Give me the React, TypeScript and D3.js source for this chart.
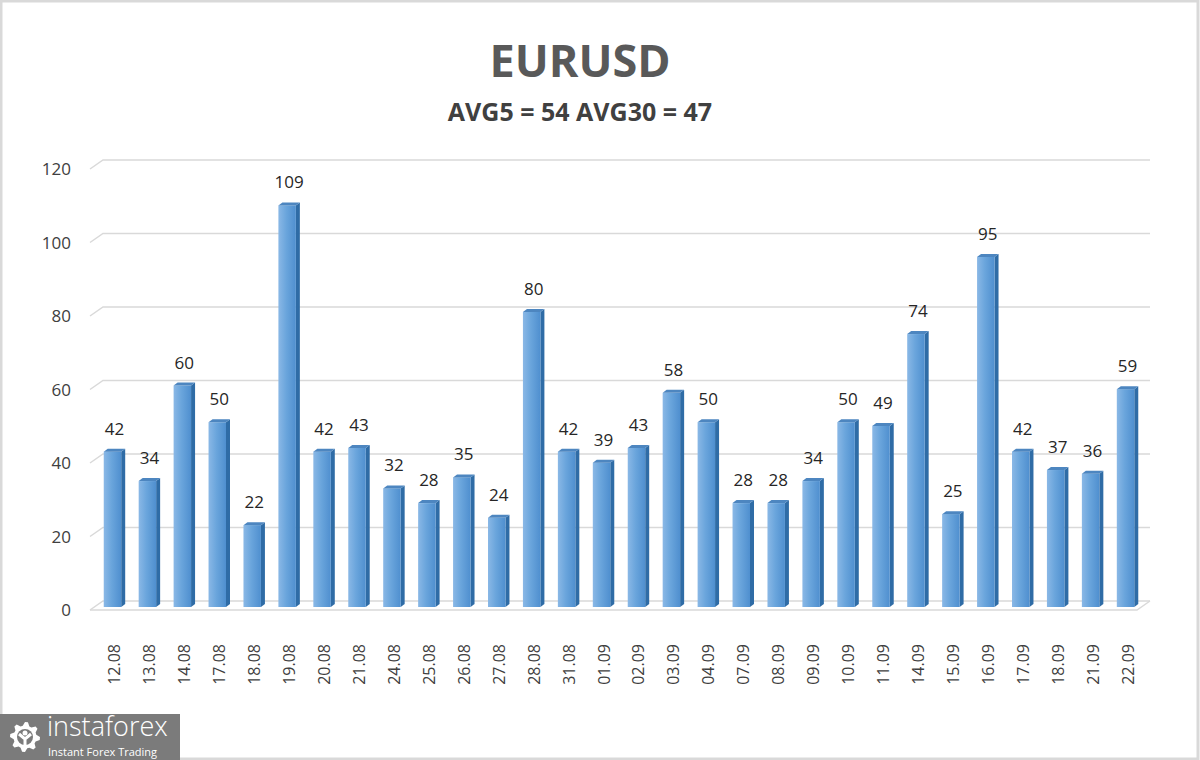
import { useEffect, useRef } from 'react';
import * as d3 from 'd3';

const dates = ['12.08', '13.08', '14.08', '17.08', '18.08', '19.08', '20.08', '21.08', '24.08', '25.08',
  '26.08', '27.08', '28.08', '31.08', '01.09', '02.09', '03.09', '04.09', '07.09', '08.09',
  '09.09', '10.09', '11.09', '14.09', '15.09', '16.09', '17.09', '18.09', '21.09', '22.09'];
const ranges = [42, 34, 60, 50, 22, 109, 42, 43, 32, 28, 35, 24, 80, 42, 39, 43, 58, 50, 28, 28,
  34, 50, 49, 74, 25, 95, 42, 37, 36, 59];
const yTicks = [0, 20, 40, 60, 80, 100, 120];
const title = 'EURUSD';
const subtitle = 'AVG5 = 54 AVG30 = 47';

const W = 1200;
const H = 760;

const App = () => {
  const chartRef = useRef<SVGSVGElement | null>(null);

  useEffect(() => {
    const svg = d3.select(chartRef.current);
    svg.selectAll('*').remove();

    const font = "'Open Sans', 'Noto Sans', sans-serif";
    // 3d depth of the back wall
    const dx = 13, dy = -9;

    const xScale = d3.scaleBand<string>()
      .domain(dates)
      .range([96, 1144])
      .paddingInner(0.5)
      .paddingOuter(0.25);

    const yScale = d3.scaleLinear<number>()
      .domain([0, 120])
      .range([610, 169]);

    const defs = svg.append('defs');
    const grad = defs.append('linearGradient').attr('id', 'barGrad')
      .attr('x1', '0').attr('x2', '1').attr('y1', '0').attr('y2', '0');
    grad.append('stop').attr('offset', '0%').attr('stop-color', '#8ab8e6');
    grad.append('stop').attr('offset', '45%').attr('stop-color', '#6aa5dc');
    grad.append('stop').attr('offset', '100%').attr('stop-color', '#4f8fcf');

    svg.append('rect')
      .attr('x', 1).attr('y', 1).attr('width', W - 3).attr('height', H - 2)
      .attr('fill', '#ffffff').attr('stroke', '#d9d9d9').attr('stroke-width', 3);

    // title
    svg.append('text')
      .attr('x', 580).attr('y', 77)
      .attr('text-anchor', 'middle')
      .attr('font-family', font).attr('font-weight', 700).attr('font-size', 45)
      .attr('fill', '#595959')
      .text(title);

    svg.append('text')
      .attr('x', 580).attr('y', 121)
      .attr('text-anchor', 'middle')
      .attr('font-family', font).attr('font-weight', 700).attr('font-size', 25)
      .attr('fill', '#404040')
      .text(subtitle);

    const xLeft = 90;
    const xRight = 1137;

    // gridlines on the back wall + side diagonal
    const grid = svg.append('g').attr('stroke', '#d9d9d9').attr('stroke-width', 1.5).attr('fill', 'none');
    yTicks.forEach(t => {
      const y = yScale(t);
      grid.append('path')
        .attr('d', `M${xLeft},${y} L${xLeft + dx},${y + dy} L${xRight + dx},${y + dy}`);
    });
    // floor front edge
    grid.append('path')
      .attr('d', `M${xLeft},${yScale(0)} L${xRight},${yScale(0)} L${xRight + dx},${yScale(0) + dy}`);

    // y labels
    svg.append('g')
      .selectAll('text')
      .data(yTicks)
      .join('text')
      .attr('x', 71)
      .attr('y', d => yScale(d) + 6)
      .attr('text-anchor', 'end')
      .attr('font-family', font).attr('font-size', 17)
      .attr('fill', '#404040')
      .text(d => d.toString());

    // bars
    const bw = xScale.bandwidth();
    const side = 4, lift = 3;
    const bars = svg.append('g');
    dates.forEach((d, i) => {
      const v = ranges[i];
      const x0 = (xScale(d) as number) - 1;
      const yTop = yScale(v) - 4;
      const yBase = yScale(0) - 3;
      const g = bars.append('g');
      // side face
      g.append('path')
        .attr('d', `M${x0 + bw},${yTop} L${x0 + bw + side},${yTop - lift} L${x0 + bw + side},${yBase - lift} L${x0 + bw},${yBase} Z`)
        .attr('fill', '#2f6ca6');
      // front face
      g.append('rect')
        .attr('x', x0).attr('y', yTop)
        .attr('width', bw).attr('height', yBase - yTop)
        .attr('fill', 'url(#barGrad)');
      // top face
      g.append('path')
        .attr('d', `M${x0},${yTop} L${x0 + side},${yTop - lift} L${x0 + bw + side},${yTop - lift} L${x0 + bw},${yTop} Z`)
        .attr('fill', '#4d86c0');
      // value label
      g.append('text')
        .attr('x', x0 + bw / 2 + 2)
        .attr('y', yTop - 17)
        .attr('text-anchor', 'middle')
        .attr('font-family', font).attr('font-size', 17)
        .attr('fill', '#262626')
        .text(v.toString());
    });

    // x labels
    svg.append('g')
      .selectAll('text')
      .data(dates)
      .join('text')
      .attr('transform', d => `translate(${(xScale(d) as number) + bw / 2 + 7}, 644) rotate(-90)`)
      .attr('text-anchor', 'end')
      .attr('font-family', font).attr('font-size', 16)
      .attr('fill', '#404040')
      .text(d => d);

    // logo
    const logo = svg.append('g');
    logo.append('rect')
      .attr('x', 0).attr('y', 714).attr('width', 180).attr('height', 46)
      .attr('fill', '#7b7b7b');
    const cx = 25, cy = 737;
    const teeth = 8;
    const gearPts: [number, number][] = [];
    for (let k = 0; k < teeth * 4; k++) {
      const a = (k / (teeth * 4)) * Math.PI * 2;
      const r = (k % 4 === 0 || k % 4 === 1) ? 15 : 11.5;
      gearPts.push([cx + r * Math.cos(a), cy + r * Math.sin(a)]);
    }
    logo.append('path')
      .attr('d', d3.line().curve(d3.curveLinearClosed)(gearPts) as string)
      .attr('fill', '#ffffff');
    logo.append('circle').attr('cx', cx).attr('cy', cy).attr('r', 8).attr('fill', '#7b7b7b');
    logo.append('circle').attr('cx', cx).attr('cy', cy - 4).attr('r', 2.5).attr('fill', '#ffffff');
    logo.append('path')
      .attr('d', `M${cx - 6},${cy - 3} L${cx},${cy + 2} L${cx + 6},${cy - 3} M${cx},${cy + 2} L${cx},${cy + 12}`)
      .attr('stroke', '#ffffff').attr('stroke-width', 3).attr('fill', 'none');
    logo.append('text')
      .attr('x', 47).attr('y', 736)
      .attr('font-family', font).attr('font-size', 27).attr('font-weight', 300)
      .attr('fill', '#ffffff')
      .text('instaforex');
    logo.append('text')
      .attr('x', 48).attr('y', 756)
      .attr('font-family', font).attr('font-size', 11)
      .attr('fill', '#ffffff')
      .text('Instant Forex Trading');
  }, []);

  return (
    <svg ref={chartRef} width={W} height={H}
      style={{ position: 'absolute', left: 0, top: 0, display: 'block' }} />
  );
};

export default App;
